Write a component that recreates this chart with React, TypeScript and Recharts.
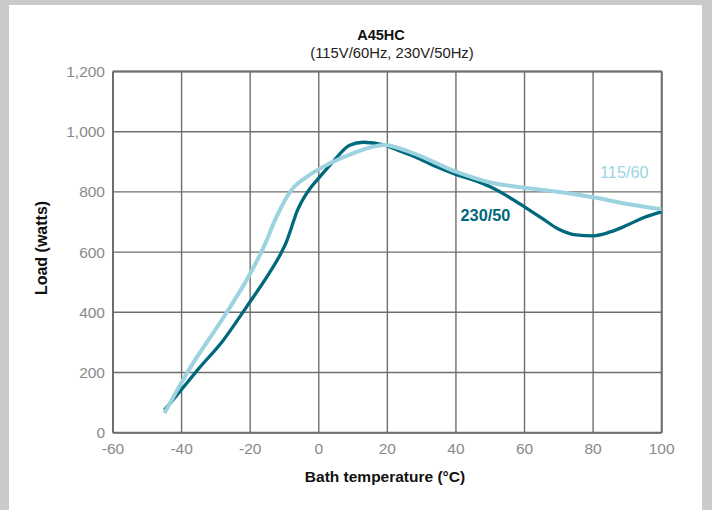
import React from "react";
import { LineChart, Line, XAxis, YAxis, CartesianGrid, ReferenceLine, ReferenceDot } from "recharts";

const xTicks = [-60, -40, -20, 0, 20, 40, 60, 80, 100];
const yTicks = [0, 200, 400, 600, 800, 1000, 1200];

const temp230 = [-45, -40, -35, -28, -21, -15, -10.8, -9.4, -7.9, -6.4, -5, -2.5, 0.3, 4, 9, 13, 19, 24, 28, 34, 40, 45, 50, 55, 60, 65, 70, 75, 80, 85, 90, 95, 100];
const load230 = [75, 144, 213, 305, 419, 520, 601, 635, 684, 734, 767, 812, 850, 898, 955, 965, 956, 934, 917, 885, 858, 840, 817, 786, 750, 713, 676, 657, 654, 667, 690, 716, 734];

const temp115 = [-45, -38.5, -27, -20.5, -16, -12.3, -8, -3.5, 3.3, 10, 19, 27.6, 40, 50, 60, 69, 80, 90, 100];
const load115 = [65, 197, 397, 518, 618, 718, 806, 850, 895, 928, 956, 928, 867, 831, 814, 801, 782, 760, 742];

const data230 = temp230.map((x, i) => ({ x, y: load230[i] }));
const data115 = temp115.map((x, i) => ({ x, y: load115[i] }));

const DARK = "#00687c";
const LIGHT = "#9dd3df";
const GRID = "#6e6e6e";
const TICK = "#8a8a8a";
const FONT = "'Liberation Sans', Arial, Helvetica, sans-serif";

export default function App() {
  return (
    <div style={{ position: "fixed", left: 0, top: 0, width: 712, height: 510, background: "#cacaca", fontFamily: FONT }}>
      <div style={{ position: "absolute", left: 9, top: 5, width: 693, height: 505, background: "#ffffff" }} />
      <div style={{ position: "absolute", left: 281, width: 200, top: 26, textAlign: "center", fontWeight: 700, fontSize: 14.5, color: "#111", lineHeight: "18px" }}>A45HC</div>
      <div style={{ position: "absolute", left: 292, width: 200, top: 44, textAlign: "center", fontSize: 14.8, color: "#222", lineHeight: "18px" }}>(115V/60Hz, 230V/50Hz)</div>
      <div style={{ position: "absolute", left: 285, width: 200, top: 468, textAlign: "center", fontWeight: 700, fontSize: 15.5, color: "#111", lineHeight: "18px" }}>Bath temperature (°C)</div>
      <div style={{ position: "absolute", left: 42 - 70, top: 248 - 9, width: 140, height: 18, textAlign: "center", fontWeight: 700, fontSize: 16, color: "#111", lineHeight: "18px", transform: "rotate(-90deg)" }}>Load (watts)</div>
      <div style={{ position: "absolute", left: 0, top: 0 }}>
        <LineChart width={712} height={510} margin={{ top: 71.5, right: 50.3, left: 53, bottom: 47.3 }}>
          <CartesianGrid stroke={GRID} strokeWidth={1.4} horizontalValues={yTicks} verticalValues={xTicks} />
          <XAxis
            type="number"
            dataKey="x"
            domain={[-60, 100]}
            ticks={xTicks}
            allowDataOverflow
            height={30}
            tickSize={0}
            tickMargin={10}
            tickLine={false}
            axisLine={{ stroke: GRID, strokeWidth: 2 }}
            tick={{ fill: TICK, fontSize: 15.5, fontFamily: FONT }}
          />
          <YAxis
            type="number"
            dataKey="y"
            domain={[0, 1200]}
            ticks={yTicks}
            allowDataOverflow
            width={60}
            tickSize={0}
            tickMargin={8}
            tickLine={false}
            axisLine={{ stroke: GRID, strokeWidth: 2 }}
            tickFormatter={(v: number) => v.toLocaleString("en-US")}
            tick={{ fill: TICK, fontSize: 15.5, fontFamily: FONT }}
          />
          <ReferenceLine y={1200} stroke={GRID} strokeWidth={2} />
          <ReferenceLine x={100} stroke={GRID} strokeWidth={2} />
          <Line data={data230} dataKey="y" type="monotone" stroke={DARK} strokeWidth={3.3} dot={false} isAnimationActive={false} />
          <Line data={data115} dataKey="y" type="monotone" stroke={LIGHT} strokeWidth={4} dot={false} isAnimationActive={false} />
          <ReferenceDot
            x={48.6}
            y={721}
            r={0}
            stroke="none"
            fill="none"
            label={{ value: "230/50", position: "center", fill: DARK, fontSize: 16.3, fontWeight: 700, fontFamily: FONT }}
          />
          <ReferenceDot
            x={89.1}
            y={865}
            r={0}
            stroke="none"
            fill="none"
            label={{ value: "115/60", position: "center", fill: LIGHT, fontSize: 16.3, fontFamily: FONT }}
          />
        </LineChart>
      </div>
    </div>
  );
}
